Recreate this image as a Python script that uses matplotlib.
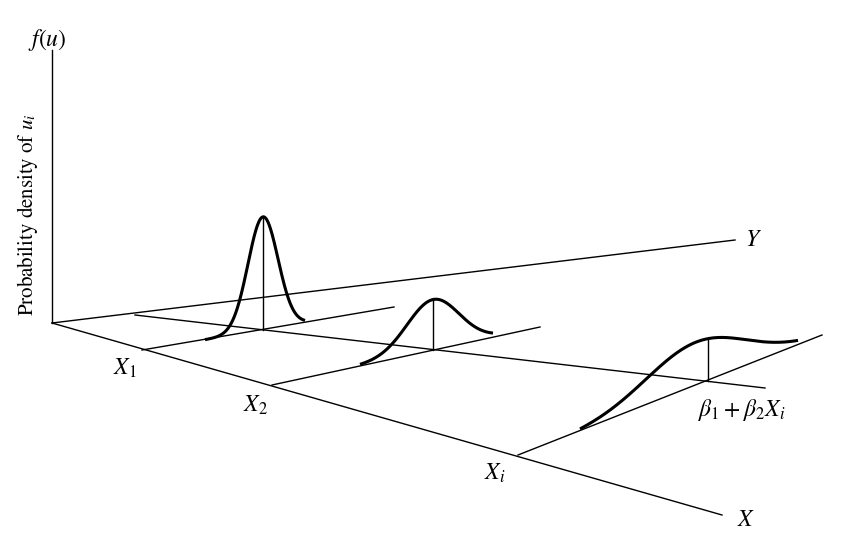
import numpy as np
import matplotlib.pyplot as plt

plt.rcParams['mathtext.fontset'] = 'stix'
plt.rcParams['font.family'] = 'DejaVu Serif'

# diagram geometry in image pixels (y downward)
origin = (52, 323)
f_axis_top = (52, 50)
y_axis_end = (735, 240)
x_axis_end = (722, 515)
intercept = (135, 315)
reg_end = (765, 388)

# slices: foot on X axis, far end, centre x, density height, spread, range
labels = [r'$X_1$', r'$X_2$', r'$X_i$']
feet = [(142, 350), (272, 385), (518, 455)]
ends = [(394, 307), (540, 327), (822, 335)]
centres = [263, 433, 708]
peak_shift = [0, 0, -12]
heights = [113, 50, 44]
spreads = [15, 26, 50]
spans = [(205, 305), (360, 493), (580, 798)]

fig = plt.figure(figsize=(8.66, 5.39), dpi=100)
ax = fig.add_axes([0, 0, 1, 1])
ax.set_xlim(0, 866)
ax.set_ylim(539, 0)
ax.axis('off')

lw = 1.0
ax.plot([origin[0], f_axis_top[0]], [origin[1], f_axis_top[1]], 'k', lw=lw)
ax.plot([origin[0], y_axis_end[0]], [origin[1], y_axis_end[1]], 'k', lw=lw)
ax.plot([origin[0], x_axis_end[0]], [origin[1], x_axis_end[1]], 'k', lw=lw)
ax.plot([intercept[0], reg_end[0]], [intercept[1], reg_end[1]], 'k', lw=lw)

def reg_y(x):
    return intercept[1] + (x - intercept[0]) * (reg_end[1] - intercept[1]) / (reg_end[0] - intercept[0])

for foot, end, c, d, h, s, (a, b) in zip(feet, ends, centres, peak_shift, heights, spreads, spans):
    ax.plot([foot[0], end[0]], [foot[1], end[1]], 'k', lw=lw)
    slope = (end[1] - foot[1]) / (end[0] - foot[0])
    cy = reg_y(c)
    xs = np.linspace(a, b, 200)
    base = cy + (xs - c) * slope
    dens = h * np.exp(-0.5 * ((xs - c - d) / s) ** 2)
    ys = base - dens
    ax.plot(xs, ys, 'k', lw=2.2, solid_capstyle='butt')
    hc = h * np.exp(-0.5 * (d / s) ** 2)
    ax.plot([c, c], [cy, cy - hc], 'k', lw=lw)

fs = 17
ax.text(28, 40, r'$f(u)$', fontsize=fs, ha='left', va='center')
ax.text(28, 215, r'Probability density of $u_i$', fontsize=15, rotation=90,
        ha='center', va='center', family='STIXGeneral')
ax.text(745, 240, r'$Y$', fontsize=fs, ha='left', va='center')
ax.text(737, 520, r'$X$', fontsize=fs, ha='left', va='center')
for lab, (fx, fy) in zip(labels, [(125, 368), (255, 405), (495, 473)]):
    ax.text(fx, fy, lab, fontsize=fs, ha='center', va='center')
ax.text(742, 410, r'$\beta_1 + \beta_2 X_i$', fontsize=fs, ha='center', va='center')

fig.savefig('out.png', dpi=100)
